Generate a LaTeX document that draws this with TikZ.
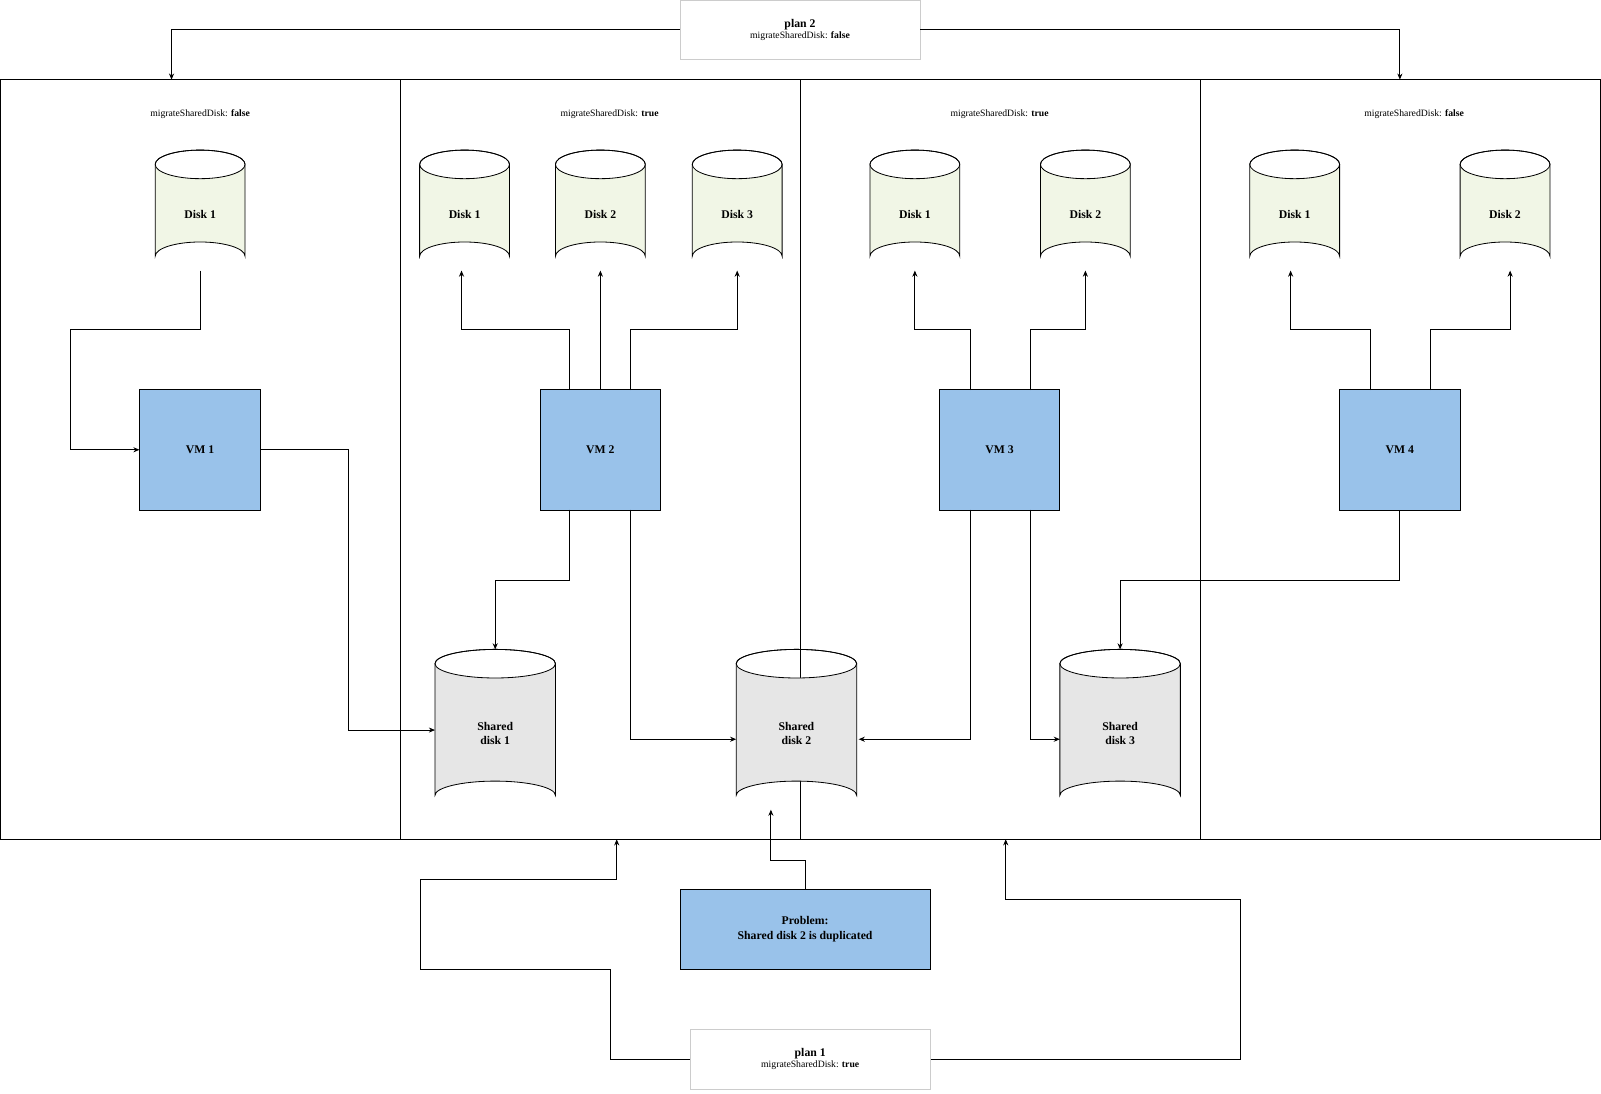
\documentclass[tikz,border=0pt]{standalone}
\usepackage{fontspec}
\setmainfont{Liberation Serif}
\usetikzlibrary{arrows.meta}
\definecolor{dk}{HTML}{F1F6E6}
\definecolor{sh}{HTML}{E6E6E6}
\definecolor{vm}{HTML}{99C2EA}
\newcommand\dbcyl[7]{% name, cx, top, w, h, fill, text
  \fill[#6] (#2-#4/2,#3+14) -- (#2-#4/2,#3+#5-14) arc[start angle=180,end angle=360,x radius=#4/2,y radius=14] -- (#2+#4/2,#3+14) arc[start angle=0,end angle=180,x radius=#4/2,y radius=14] -- cycle;
  \draw (#2-#4/2,#3+14) -- (#2-#4/2,#3+#5-14) arc[start angle=180,end angle=360,x radius=#4/2,y radius=14] -- (#2+#4/2,#3+14);
  \draw (#2,#3+14) ellipse[x radius=#4/2,y radius=14];
  \draw (#2-#4/2,#3+14) arc[start angle=180,end angle=360,x radius=#4/2,y radius=14];
  \node[font=\bfseries\fontsize{11.5}{14}\selectfont,align=center] (#1) at (#2,#3+#5/2+4) {#7};
}
\begin{document}
\begin{tikzpicture}[x=1pt,y=-1pt,line width=0.8pt,
  ar/.style={-{Stealth[length=6pt,width=5pt]}},
  lbl/.style={font=\fontsize{9.5}{12}\selectfont},
  vmb/.style={draw,fill=vm,minimum width=118pt,minimum height=118pt,font=\bfseries\fontsize{11.5}{14}\selectfont},
  plan/.style={draw=black!20,fill=white,minimum width=235pt,minimum height=58pt,align=center}]
\useasboundingbox (0,0) rectangle (1568,1070.5);
% panels
\draw (0,78) rectangle (1567,822);
\foreach \x in {392,784,1176} \draw (\x,78) -- (\x,822);
\node[lbl] (l1) at (196,112) {migrateSharedDisk: \textbf{false}};
\node[lbl] (l2) at (597,112) {migrateSharedDisk: \textbf{true}};
\node[lbl] (l3) at (979,112) {migrateSharedDisk: \textbf{true}};
\node[lbl] (l4) at (1385,112) {migrateSharedDisk: \textbf{false}};
% plan 2
\node[plan] (p2) at (783.5,29) {\bfseries\fontsize{11.5}{14}\selectfont plan 2\\[-1pt]\fontsize{9.5}{12}\selectfont migrateSharedDisk: \textbf{false}};
\draw[ar] (p2.west) -- (168,29) -- (168,78);
\draw[ar] (p2.east) -- (1371,29) -- (1371,78);
% disks
\dbcyl{a1}{196}{147}{88}{118}{dk}{Disk 1}
\dbcyl{b1}{455}{147}{88}{118}{dk}{Disk 1}
\dbcyl{b2}{588}{147}{88}{118}{dk}{Disk 2}
\dbcyl{b3}{722}{147}{88}{118}{dk}{Disk 3}
\dbcyl{c1}{896}{147}{88}{118}{dk}{Disk 1}
\dbcyl{c2}{1063}{147}{88}{118}{dk}{Disk 2}
\dbcyl{d1}{1268}{147}{88}{118}{dk}{Disk 1}
\dbcyl{d2}{1474}{147}{88}{118}{dk}{Disk 2}
\dbcyl{s1}{485}{636}{118}{157}{sh}{Shared\\disk 1}
\dbcyl{s2}{780}{636}{118}{157}{sh}{Shared\\disk 2}
\dbcyl{s3}{1097}{636}{118}{157}{sh}{Shared\\disk 3}
% VMs
\node[vmb] (v1) at (196,440.5) {VM 1};
\node[vmb] (v2) at (588,440.5) {VM 2};
\node[vmb] (v3) at (979,440.5) {VM 3};
\node[vmb] (v4) at (1371,440.5) {VM 4};
% connectors
\draw[ar] (196,265) -- (196,323) -- (69,323) -- (69,440.5) -- (v1.west);
\draw[ar] (v1.east) -- (341,440.5) -- (341,715) -- (426,715);
\draw[ar] (558,382) -- (558,323) -- (452,323) -- (452,265);
\draw[ar] (v2.north) -- (588,265);
\draw[ar] (617,382) -- (617,323) -- (722,323) -- (722,265);
\draw[ar] (558,499) -- (558,568) -- (485,568) -- (485,636);
\draw[ar] (617,499) -- (617,724) -- (721,724);
\draw[ar] (950,382) -- (950,323) -- (896,323) -- (896,265);
\draw[ar] (1009,382) -- (1009,323) -- (1063,323) -- (1063,265);
\draw[ar] (950,499) -- (950,724) -- (841,724);
\draw[ar] (1009,499) -- (1009,724) -- (1038,724);
\draw[ar] (1342,382) -- (1342,323) -- (1264,323) -- (1264,265);
\draw[ar] (1401,382) -- (1401,323) -- (1479,323) -- (1479,265);
\draw[ar] (v4.south) -- (1371,568) -- (1097,568) -- (1097,636);
% problem
\node[draw,fill=vm,minimum width=245pt,minimum height=78pt,align=center,font=\bfseries\fontsize{11.5}{14}\selectfont] (pr) at (788.5,910) {Problem:\\Shared disk 2 is duplicated};
\draw[ar] (789,871) -- (789,843) -- (755,843) -- (755,793);
% plan 1
\node[plan] (p1) at (793.5,1037.5) {\bfseries\fontsize{11.5}{14}\selectfont plan 1\\[-1pt]\fontsize{9.5}{12}\selectfont migrateSharedDisk: \textbf{true}};
\draw[ar] (p1.west) -- (598,1037.5) -- (598,949) -- (412,949) -- (412,861) -- (604,861) -- (604,822);
\draw[ar] (p1.east) -- (1215,1037.5) -- (1215,881) -- (985,881) -- (985,822);
\end{tikzpicture}
\end{document}
